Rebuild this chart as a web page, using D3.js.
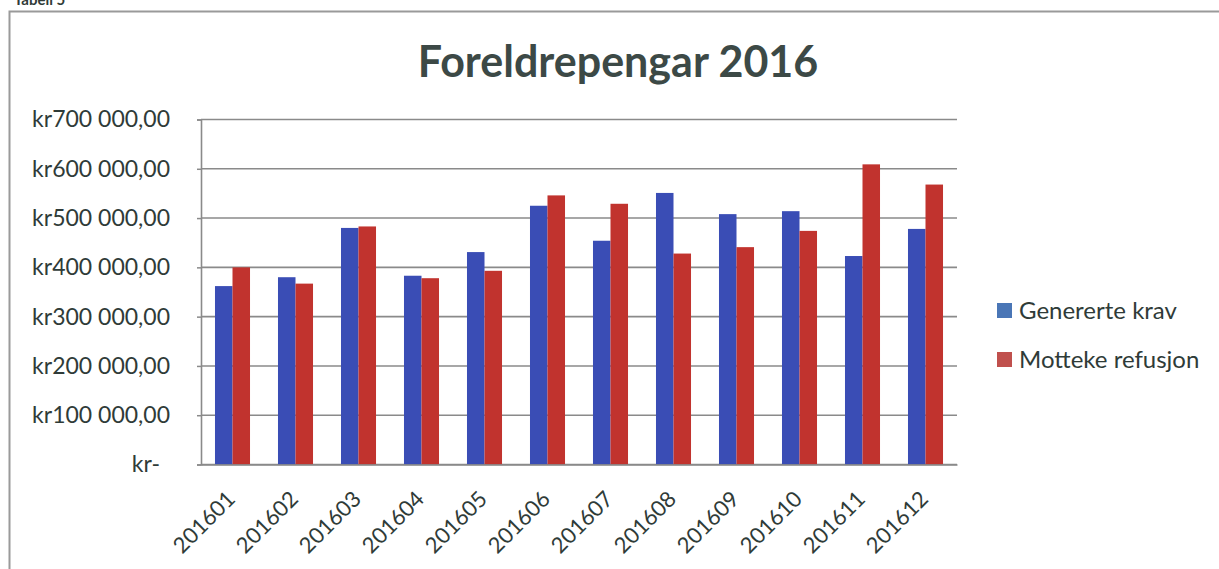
<!DOCTYPE html>
<html>
<head>
<meta charset="utf-8">
<script src="https://cdn.jsdelivr.net/npm/d3@7"></script>
<style>
  body { margin: 0; background: #fff; }
  svg { display: block; font-family: Lato, "Open Sans", sans-serif; }
</style>
</head>
<body>
<div id="chart"></div>
<script>
// months and the two series (kr)
var months = ["201601", "201602", "201603", "201604", "201605", "201606",
              "201607", "201608", "201609", "201610", "201611", "201612"]
var genererteKrav = [362000, 380000, 480000, 383000, 431000, 525000,
                     454000, 551000, 508000, 514000, 423000, 478000]
var mottekeRefusjon = [400000, 367000, 483000, 378000, 393000, 546000,
                       529000, 428000, 441000, 474000, 609000, 568000]
var seriesNames = ["Genererte krav", "Motteke refusjon"]
var yTicks = [0, 100000, 200000, 300000, 400000, 500000, 600000, 700000]

var width = 1219, height = 569
var margin = { top: 119.5, right: 262, bottom: 104.5, left: 201 }
var innerW = width - margin.left - margin.right
var innerH = height - margin.top - margin.bottom

var barColors = ["#3a4db5", "#c1332e"]
var legendColors = ["#4a76b6", "#c0504d"]
var textColor = "#2f3b38"
var font = "Lato, 'Open Sans', sans-serif"

var data = months.map(function (m, i) {
  return { month: m, values: [genererteKrav[i], mottekeRefusjon[i]] }
})

var svg = d3.select("#chart").append("svg")
  .attr("width", width)
  .attr("height", height)

// outer chart frame (cut by the page edge)
svg.append("path")
  .attr("d", "M9.5,569 V11.5 H1219")
  .attr("fill", "none")
  .attr("stroke", "#9a9a9a")
  .attr("stroke-width", 2)

// caption above the frame, mostly cut off
svg.append("text")
  .attr("x", 14).attr("y", 5)
  .style("font-size", "15px").style("font-weight", "bold")
  .style("fill", textColor)
  .text("Tabell 5")

svg.append("text")
  .attr("x", 618).attr("y", 77)
  .attr("text-anchor", "middle")
  .style("font-size", "43px").style("font-weight", "bold")
  .style("fill", "#3c4946")
  .text("Foreldrepengar 2016")

var g = svg.append("g").attr("transform", "translate(" + margin.left + "," + margin.top + ")")

var x0 = d3.scaleBand()
  .domain(months)
  .range([0, innerW])
  .paddingInner(0.444)
  .paddingOuter(0.222)

var x1 = d3.scaleBand()
  .domain([0, 1])
  .range([0, x0.bandwidth()])

var y = d3.scaleLinear()
  .domain([0, 700000])
  .range([innerH, 0])

function krFormat(v) {
  if (v == 0) return "kr-"
  var s = d3.format(",.2f")(v)
  return "kr" + s.replace(/,/g, " ").replace(".", ",")
}

// gridlines
g.append("g")
  .selectAll("line")
  .data(yTicks)
  .enter()
  .append("line")
    .attr("x1", 0).attr("x2", innerW)
    .attr("y1", function (d) { return y(d) })
    .attr("y2", function (d) { return y(d) })
    .attr("stroke", "#8a8a8a")
    .attr("stroke-width", 1.6)

// y axis
var yAxis = g.append("g")
  .call(d3.axisLeft(y).tickValues(yTicks).tickSize(4).tickPadding(27).tickFormat(krFormat))
yAxis.attr("font-family", null)
yAxis.select(".domain").attr("stroke", "#8a8a8a").attr("stroke-width", 1.6)
yAxis.selectAll(".tick line").attr("stroke", "#8a8a8a").attr("stroke-width", 1.5)
yAxis.selectAll(".tick text")
  .style("font-family", font)
  .style("font-size", "23px")
  .style("fill", textColor)
  .attr("dx", function (d) { return d == 0 ? -10 : 0 })

// bars
g.append("g")
  .selectAll("g")
  .data(data)
  .enter()
  .append("g")
    .attr("transform", function (d) { return "translate(" + x0(d.month) + ",0)" })
  .selectAll("rect")
  .data(function (d) { return d.values })
  .enter()
  .append("rect")
    .attr("x", function (d, i) { return x1(i) })
    .attr("width", x1.bandwidth())
    .attr("y", function (d) { return y(d) })
    .attr("height", function (d) { return innerH - y(d) })
    .attr("fill", function (d, i) { return barColors[i] })

// x axis
var xAxis = g.append("g")
  .attr("transform", "translate(0," + innerH + ")")
  .call(d3.axisBottom(x0).tickSize(0).tickPadding(0))
xAxis.attr("font-family", null)
xAxis.select(".domain").attr("stroke", "#8a8a8a").attr("stroke-width", 1.6)
xAxis.selectAll(".tick text")
  .style("font-family", font)
  .style("font-size", "22px")
  .style("fill", textColor)
  .attr("text-anchor", "end")
  .attr("dy", null)
  .attr("transform", "translate(4,36) rotate(-45)")

// legend
var legend = svg.append("g")
  .selectAll("g")
  .data(seriesNames)
  .enter()
  .append("g")
    .attr("transform", function (d, i) { return "translate(997," + (303 + i * 49) + ")" })
legend.append("rect")
  .attr("width", 15).attr("height", 15)
  .attr("fill", function (d, i) { return legendColors[i] })
legend.append("text")
  .attr("x", 22).attr("y", 8)
  .attr("dy", "0.35em")
  .style("font-size", "24px")
  .style("fill", textColor)
  .text(function (d) { return d })
</script>
</body>
</html>
